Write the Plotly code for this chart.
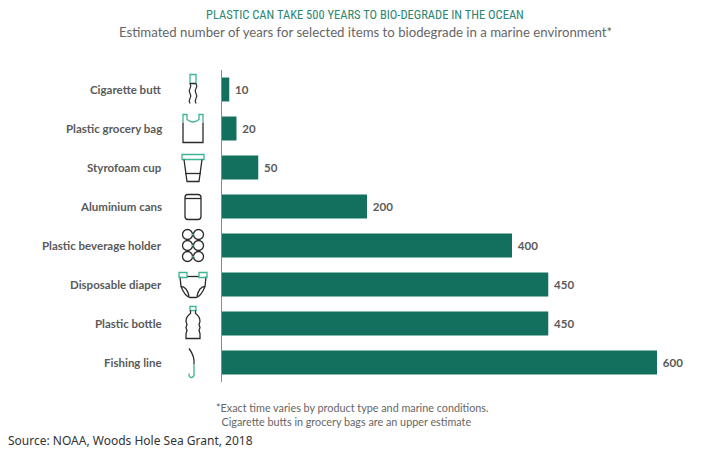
import plotly.graph_objects as go

# ── Data ─────────────────────────────────────────────────────────────────────
items = ["Cigarette butt", "Plastic grocery bag", "Styrofoam cup", "Aluminium cans",
         "Plastic beverage holder", "Disposable diaper", "Plastic bottle", "Fishing line"]
years = [10, 20, 50, 200, 400, 450, 450, 600]

BAR = "#13705f"
ACCENT = "#3db596"
INK = "#2b2b2b"
GREY = "#5a5a5a"

# The page body adds an 8px margin, so figure pixels = screen pixels - 8
OFF = 8
W, H = 725, 458
L, T = 222 - OFF, 70 - OFF          # plot left / top in figure px
PR, PB = 715 - OFF, 382 - OFF       # plot right / bottom in figure px
PW, PH = PR - L, PB - T


def px(x):
    return (x - OFF - L) / PW


def py(y):
    return (PB - (y - OFF)) / PH


def path(cmds, cx, cy):
    """cmds: list of (letter, x, y, ...) offsets in screen pixels around (cx, cy)"""
    out = []
    for c in cmds:
        letter, nums = c[0], c[1:]
        pts = []
        for i in range(0, len(nums), 2):
            pts.append(f"{px(cx + nums[i]):.5f},{py(cy + nums[i + 1]):.5f}")
        out.append(letter + " " + " ".join(pts))
    return " ".join(out)


def rect(x0, y0, x1, y1):
    return [("M", x0, y0), ("L", x1, y0), ("L", x1, y1), ("L", x0, y1), ("Z",)]


def circle(x, y, r):
    k = 0.5523 * r
    return [("M", x + r, y),
            ("C", x + r, y + k, x + k, y + r, x, y + r),
            ("C", x - k, y + r, x - r, y + k, x - r, y),
            ("C", x - r, y - k, x - k, y - r, x, y - r),
            ("C", x + k, y - r, x + r, y - k, x + r, y), ("Z",)]


def zig(x, y0, y1, amp=1.6, n=4):
    cmds = [("M", x, y0)]
    step = (y1 - y0) / n
    for i in range(n):
        cmds.append(("Q", x + (amp if i % 2 == 0 else -amp), y0 + step * (i + 0.5),
                     x, y0 + step * (i + 1)))
    return cmds


icons = {
    "Cigarette butt": [
        (rect(-3, -15, 3, -6), ACCENT),
        (zig(-3, -6, 14), INK), (zig(3, -6, 14), INK),
        ([("M", -3, -6), ("L", 3, -6)], INK),
    ],
    "Plastic grocery bag": [
        ([("M", -10, -6), ("L", -10, 14), ("L", 10, 14), ("L", 10, -6)], INK),
        ([("M", -10, -6), ("L", -10, -14), ("L", -6, -14), ("L", -6, -9),
          ("Q", 0, -4, 6, -9), ("L", 6, -14), ("L", 10, -14), ("L", 10, -6)], ACCENT),
    ],
    "Styrofoam cup": [
        (rect(-11, -13, 11, -8), ACCENT),
        ([("M", -9, -8), ("L", -6, 14), ("L", 6, 14), ("L", 9, -8)], INK),
        ([("M", -8, 6), ("L", 8, 6)], INK),
    ],
    "Aluminium cans": [
        ([("M", -8, -9), ("Q", -8, -12, -5, -12), ("L", 5, -12), ("Q", 8, -12, 8, -9),
          ("L", 8, 10), ("Q", 8, 13, 5, 13), ("L", -5, 13), ("Q", -8, 13, -8, 10), ("Z",)], INK),
        ([("M", -8, -8), ("L", 8, -8)], INK),
    ],
    "Plastic beverage holder": [
        (circle(dx, dy, 5), INK) for dx in (-5.5, 5.5) for dy in (-11, 0, 11)
    ] + [
        ([("M", -1, -11), ("L", 1, -11)], ACCENT),
        ([("M", -1, 0), ("L", 1, 0)], ACCENT),
        ([("M", -1, 11), ("L", 1, 11)], ACCENT),
    ],
    "Disposable diaper": [
        ([("M", -13, -8), ("L", -12, 2), ("Q", -8, 12, -3, 13), ("L", 3, 13),
          ("Q", 8, 12, 12, 2), ("L", 13, -8)], INK),
        ([("M", -6, -8), ("L", 6, -8)], INK),
        ([("M", -12, 2), ("Q", -6, 2, -4, 12)], INK),
        ([("M", 12, 2), ("Q", 6, 2, 4, 12)], INK),
        (rect(-14, -12, -6, -7), ACCENT),
        (rect(6, -12, 14, -7), ACCENT),
    ],
    "Plastic bottle": [
        (rect(-3, -17, 3, -13), ACCENT),
        ([("M", -2.5, -13), ("L", -2.5, -10), ("Q", -7, -7, -7, -2), ("L", -6, 1),
          ("L", -7, 4), ("L", -6, 7), ("L", -7, 10), ("L", -7, 15), ("L", 7, 15),
          ("L", 7, 10), ("L", 6, 7), ("L", 7, 4), ("L", 6, 1), ("L", 7, -2),
          ("Q", 7, -7, 2.5, -10), ("L", 2.5, -13)], INK),
    ],
    "Fishing line": [
        ([("M", -4, -14), ("Q", 2, -6, 1, 2)], INK),
        ([("M", 1, 2), ("L", 1, 12), ("Q", 1, 15, -2, 15), ("Q", -4, 15, -4, 11)], ACCENT),
    ],
}

# ── Figure ───────────────────────────────────────────────────────────────────
fig = go.Figure(go.Bar(
    x=years, y=items, orientation="h",
    marker=dict(color=BAR, line=dict(width=0)),
    text=[f" {v}" for v in years], textposition="outside", cliponaxis=False,
    textfont=dict(family="Lato", size=11.5, color=GREY, weight="bold"),
    hoverinfo="skip",
))

step = (PB - T) / len(items)
first_row = 70 + step / 2          # screen px
shapes = []
annotations = []
for i, name in enumerate(items):
    cy = first_row + i * step
    for cmds, colr in icons[name]:
        shapes.append(dict(type="path", xref="paper", yref="paper",
                           path=path(cmds, 193, cy), line=dict(color=colr, width=1.3),
                           fillcolor="rgba(0,0,0,0)", layer="above"))
    annotations.append(dict(x=px(164), y=name, xref="paper", yref="y",
                            xanchor="right", yanchor="middle", showarrow=False,
                            text=f"<b>{name}</b>",
                            font=dict(family="Lato", size=11.5, color=GREY)))

annotations += [
    dict(x=px(365), y=py(15), xref="paper", yref="paper", xanchor="center", yanchor="middle",
         showarrow=False, text="PLASTIC CAN TAKE 500 YEARS TO BIO-DEGRADE IN THE OCEAN",
         font=dict(family="Roboto Condensed", size=12.5, color="#2c8672")),
    dict(x=px(365), y=py(32), xref="paper", yref="paper", xanchor="center", yanchor="middle",
         showarrow=False,
         text="Estimated number of years for selected items to biodegrade in a marine environment*",
         font=dict(family="Lato", size=13.2, color="#666666")),
    dict(x=px(214), y=py(399), xref="paper", yref="paper", xanchor="left", yanchor="top",
         showarrow=False, align="left",
         text="*Exact time varies by product type and marine conditions.<br>"
              "&nbsp;&nbsp;Cigarette butts in grocery bags are an upper estimate",
         font=dict(family="Lato", size=10.8, color="#666666")),
    dict(x=px(6), y=py(440), xref="paper", yref="paper", xanchor="left", yanchor="middle",
         showarrow=False, text="Source: NOAA, Woods Hole Sea Grant, 2018",
         font=dict(family="Noto Sans", size=12, color="#333333")),
]

fig.update_layout(
    width=W, height=H, margin=dict(l=L, r=W - PR, t=T, b=H - PB),
    plot_bgcolor="white", paper_bgcolor="white",
    bargap=0.385, showlegend=False,
    shapes=shapes, annotations=annotations,
)
fig.update_xaxes(range=[0, PW / 0.725], visible=False, fixedrange=True)
fig.update_yaxes(autorange="reversed", showticklabels=False, ticks="",
                 showline=True, linecolor="#8a8a8a", linewidth=1,
                 showgrid=False, zeroline=False, fixedrange=True)

fig.write_html("out.html")
